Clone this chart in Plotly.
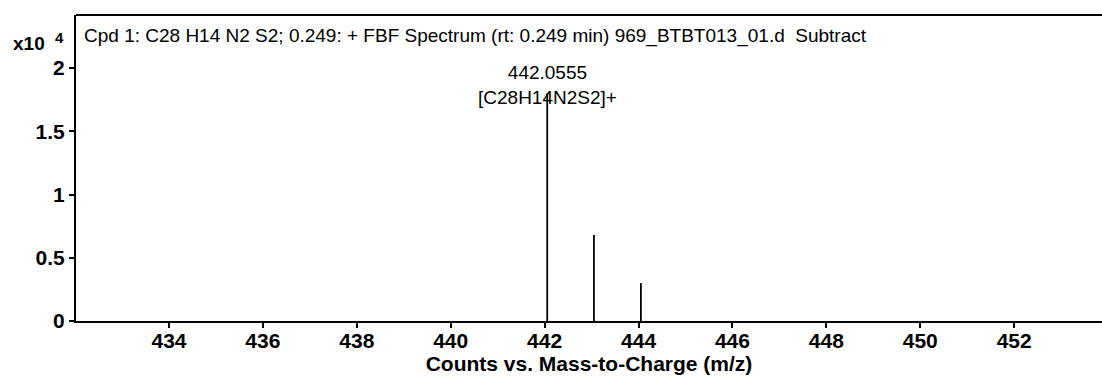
import plotly.graph_objects as go

# Data (counts x10^4 vs m/z)
mz = [442.0555, 443.05, 444.05]
counts = [1.80, 0.68, 0.30]
peak_labels = ["442.0555<br>[C28H14N2S2]+"]
x_ticks = [434, 436, 438, 440, 442, 444, 446, 448, 450, 452]
y_ticks = [0, 0.5, 1, 1.5, 2]
y_tick_text = ["0", "0.5", "1", "1.5", "2"]
title_text = "Cpd 1: C28 H14 N2 S2; 0.249: + FBF Spectrum (rt: 0.249 min) 969_BTBT013_01.d  Subtract"
x_title = "Counts vs. Mass-to-Charge (m/z)"

FONT = "Liberation Sans, Arial, sans-serif"

xs, ys = [], []
for m, c in zip(mz, counts):
    xs += [m, m, None]
    ys += [0, c, None]

fig = go.Figure()
fig.add_trace(go.Scatter(x=xs, y=ys, mode="lines",
                         line=dict(color="black", width=1.8),
                         hoverinfo="skip", showlegend=False))

fig.add_annotation(x=mz[0], y=counts[0], text=peak_labels[0], showarrow=False,
                   xref="x", yref="y", yanchor="middle", yshift=8,
                   font=dict(family=FONT, size=19, color="black"))
fig.add_annotation(x=0.0055, y=0.931, xref="paper", yref="paper", text=title_text,
                   showarrow=False, xanchor="left", yanchor="middle",
                   font=dict(family=FONT, size=19, color="black"))
fig.add_annotation(x=0, y=0.908, xref="paper", yref="paper", text="x10",
                   showarrow=False, xanchor="right", yanchor="middle", xshift=-29,
                   font=dict(family=FONT, size=19, color="black", weight="bold"))
fig.add_annotation(x=0, y=0.925, xref="paper", yref="paper", text="4",
                   showarrow=False, xanchor="center", yanchor="middle", xshift=-17,
                   font=dict(family=FONT, size=15, color="black", weight="bold"))

fig.add_shape(type="line", xref="paper", yref="paper", x0=0, x1=1, y0=1, y1=1,
              line=dict(color="black", width=2))

fig.update_layout(
    width=1102, height=383,
    margin=dict(l=76, r=0, t=15, b=62),
    paper_bgcolor="white", plot_bgcolor="white",
    font=dict(family=FONT, color="black"),
    xaxis=dict(range=[432.02, 453.87], tickvals=x_ticks, ticks="outside",
               ticklen=5, tickwidth=1.5, tickcolor="black",
               showline=True, linecolor="black", linewidth=2,
               showgrid=False, zeroline=False, ticklabelstandoff=-5,
               tickfont=dict(family=FONT, size=21, color="black", weight="bold"),
               title=dict(text=x_title, font=dict(family=FONT, size=21, color="black",
                                                  weight="bold"),
                          standoff=0)),
    yaxis=dict(range=[0, 2.42], tickvals=y_ticks, ticktext=y_tick_text, ticks="outside",
               ticklen=5, tickwidth=1.5, tickcolor="black",
               showline=True, linecolor="black", linewidth=2,
               showgrid=False, zeroline=False,
               tickfont=dict(family=FONT, size=21, color="black", weight="bold")),
)

fig.write_html("out.html")
